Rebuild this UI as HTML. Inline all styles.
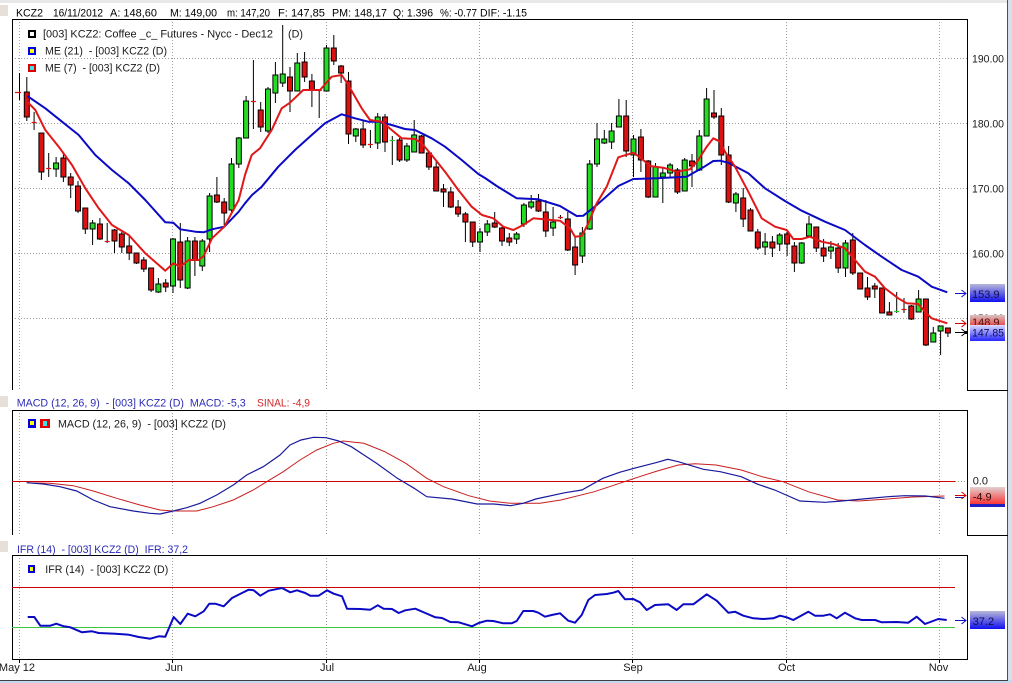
<!DOCTYPE html>
<html><head><meta charset="utf-8"><style>
html,body{margin:0;padding:0;background:#fff;}
body{width:1012px;height:683px;overflow:hidden;}
svg{display:block;}
text{font-family:"Liberation Sans",Arial,sans-serif;font-size:11px;white-space:pre;}
</style></head><body>
<svg width="1012" height="683" viewBox="0 0 1012 683" xmlns="http://www.w3.org/2000/svg">
<defs>
<linearGradient id="gb" x1="0" y1="0" x2="0" y2="1"><stop offset="0" stop-color="#b8b8d8"/><stop offset="1" stop-color="#1010f0"/></linearGradient>
<linearGradient id="gb2" x1="0" y1="0" x2="0" y2="1"><stop offset="0" stop-color="#dcdcff"/><stop offset="1" stop-color="#2626ff"/></linearGradient>
<linearGradient id="gr" x1="0" y1="0" x2="0" y2="1"><stop offset="0" stop-color="#d8c0c0"/><stop offset="1" stop-color="#e84848"/></linearGradient>
<linearGradient id="gr2" x1="0" y1="0" x2="0" y2="1"><stop offset="0" stop-color="#e0d0d0"/><stop offset="1" stop-color="#ff1c1c"/></linearGradient>
</defs>
<rect x="0" y="0" width="1012" height="683" fill="#fff"/>
<rect x="0" y="0" width="1012" height="3" fill="#e8e8e8"/>
<rect x="0" y="5" width="8" height="11" fill="#e6e0d8"/>
<rect x="0" y="396" width="8" height="11" fill="#e6e0d8"/>
<rect x="0" y="541" width="8" height="11" fill="#e6e0d8"/>
<!-- right frame -->
<rect x="1008" y="0" width="4" height="683" fill="#d4e0ec"/>
<rect x="1007" y="0" width="1" height="680" fill="#505050"/>
<rect x="0" y="680" width="1012" height="3" fill="#c4d8f0"/>
<rect x="0" y="680" width="1008" height="1" fill="#404040"/>

<!-- header -->
<g fill="#000">
<text x="16" y="16.5" textLength="27" lengthAdjust="spacingAndGlyphs">KCZ2</text>
<text x="53" y="16.5" textLength="50" lengthAdjust="spacingAndGlyphs">16/11/2012</text>
<text x="110" y="16.5" textLength="47" lengthAdjust="spacingAndGlyphs">A: 148,60</text>
<text x="170" y="16.5" textLength="47" lengthAdjust="spacingAndGlyphs">M: 149,00</text>
<text x="227" y="16.5" textLength="43" lengthAdjust="spacingAndGlyphs">m: 147,20</text>
<text x="278" y="16.5" textLength="47" lengthAdjust="spacingAndGlyphs">F: 147,85</text>
<text x="332" y="16.5" textLength="55" lengthAdjust="spacingAndGlyphs">PM: 148,17</text>
<text x="393" y="16.5" textLength="40" lengthAdjust="spacingAndGlyphs">Q: 1.396</text>
<text x="440" y="16.5" textLength="37" lengthAdjust="spacingAndGlyphs">%: -0.77</text>
<text x="480" y="16.5" textLength="47" lengthAdjust="spacingAndGlyphs">DIF: -1.15</text>
</g>

<!-- grid -->
<g stroke="#9a9a9a" stroke-width="1" stroke-dasharray="1,2" fill="none">
<path d="M12 58.5H967M12 123.5H967M12 188.5H967M12 253.5H967M12 318.5H967"/>
<path d="M19.5 19V390M172.5 19V390M326.5 19V390M479.5 19V390M632.5 19V390M786.5 19V390M939.5 19V390"/>
<path d="M19.5 410V535M172.5 410V535M326.5 410V535M479.5 410V535M632.5 410V535M786.5 410V535M939.5 410V535"/>
<path d="M19.5 555V659M172.5 555V659M326.5 555V659M479.5 555V659M632.5 555V659M786.5 555V659M939.5 555V659"/>
<path d="M955 481.5H967"/>
</g>

<!-- panel borders -->
<g stroke="#000" stroke-width="1" fill="none">
<path d="M12.5 390V19.5H967.5V390.5H1008"/>
<path d="M12.5 535V410.5H967.5V535.5H1008"/>
<path d="M12.5 555.5H967.5V659.5H12.5Z"/>
<path d="M19.5 659V663M172.5 659V663M326.5 659V663M479.5 659V663M632.5 659V663M786.5 659V663M939.5 659V663"/>
</g>

<!-- legends main -->
<rect x="28" y="30" width="8" height="8" fill="#000"/><rect x="30" y="32" width="4" height="4" fill="#fff"/>
<rect x="28" y="47" width="8" height="8" fill="#0000e0"/><rect x="30" y="49" width="4" height="4" fill="#ffff00"/>
<rect x="28" y="64" width="8" height="8" fill="#e00000"/><rect x="30" y="66" width="4" height="4" fill="#40e0e0"/>
<g fill="#1a1a1a">
<text x="43" y="37.5" textLength="230" lengthAdjust="spacingAndGlyphs">[003] KCZ2: Coffee _c_ Futures - Nycc - Dec12</text>
<text x="288" y="37.5" textLength="15" lengthAdjust="spacingAndGlyphs">(D)</text>
<text x="45" y="54.5" textLength="122" lengthAdjust="spacingAndGlyphs">ME (21)  - [003] KCZ2 (D)</text>
<text x="45" y="71.5" textLength="115" lengthAdjust="spacingAndGlyphs">ME (7)  - [003] KCZ2 (D)</text>
</g>

<!-- price axis labels -->
<g fill="#1a1a1a">
<text x="972" y="62.5" textLength="32" lengthAdjust="spacingAndGlyphs">190.00</text>
<text x="972" y="127.5" textLength="32" lengthAdjust="spacingAndGlyphs">180.00</text>
<text x="972" y="192.5" textLength="32" lengthAdjust="spacingAndGlyphs">170.00</text>
<text x="972" y="257.5" textLength="32" lengthAdjust="spacingAndGlyphs">160.00</text>
<text x="972" y="322" textLength="32" lengthAdjust="spacingAndGlyphs">150.00</text>
</g>

<!-- candles wicks -->
<path fill="none" stroke="#000" stroke-width="1" d="M19.5 73V100M26.8 77V121M34.1 112V130M41.4 133V180M48.7 153V177M56.1 157V177M63.4 154V182M70.7 173V198M78 181V213M85.3 208V234M92.6 220V245M99.9 218V240M107.2 223V243M114.5 229V253M121.8 232V253M129.2 236V260M136.5 253V264M143.8 257V272M151.1 268V292M158.4 278V293M165.7 279V292M173 238V293M180.3 223V288M187.6 237V289M194.9 237V276M202.3 239V271M209.6 193V252M216.9 177V203M224.2 198V225M231.5 158V212M238.8 137V168M246.1 96V138M253.4 60V129M260.7 102V132M268 87V133M275.4 62V103M282.7 25V87M290 67V112M297.3 53V91M304.6 52V82M311.9 74V107M319.2 90V118M326.5 45V91M333.8 35V65M341.1 65V83M348.5 72V144M355.8 128V142M363.1 120V148M370.4 130V148M377.7 113V149M385 114V152M392.3 136V165M399.6 138V162M406.9 143V162M414.2 120V152M421.6 135V153M428.9 152V170M436.2 162V191M443.5 184V207M450.8 187V208M458.1 200V217M465.4 212V242M472.7 222V247M480 228V252M487.3 220V236M494.7 212V228M502 227V246M509.3 233V246M516.6 232V244M523.9 203V227M531.2 195V209M538.5 194V212M545.8 200V237M553.1 207V236M560.4 215V219M567.8 212V251M575.1 237V275M582.4 227V263M589.7 160V230M597 123V167M604.3 130V144M611.6 123V149M618.9 99V127M626.2 100V157M633.5 135V177M640.9 129V172M648.2 160V198M655.5 163V197M662.8 168V203M670.1 163V177M677.4 168V194M684.7 158V191M692 154V187M699.3 130V171M706.6 88V136M714 90V119M721.3 108V165M728.6 146V203M735.9 192V212M743.2 188V227M750.5 208V231M757.8 229V250M765.1 233V255M772.4 236V257M779.7 233V251M787.1 232V256M794.4 242V272M801.7 242V264M809 216V237M816.3 227V252M823.6 239V262M830.9 241V259M838.2 243V273M845.5 240V277M852.8 233V275M860.2 273V289M867.5 277V300M874.8 283V298M882.1 288V313M889.4 302V315M896.7 292V313M904 298V313M911.3 305V320M918.6 290V312M925.9 299V346M933.3 327V342M940.6 326V355M947.9 328V337"/>

<!-- green bodies -->
<path fill="#22dd22" stroke="#000" stroke-width="1" d="M53.6 163h5V169h-5ZM90.1 223h5V229h-5ZM155.9 284h5V292h-5ZM170.5 239h5V286h-5ZM185.1 241h5V288h-5ZM199.8 241h5V266h-5ZM207.1 196h5V239h-5ZM229 164h5V210h-5ZM236.3 138h5V164h-5ZM243.6 101h5V138h-5ZM265.5 89h5V131h-5ZM272.9 75h5V93h-5ZM280.2 74h5V83h-5ZM294.8 63h5V91h-5ZM324 48h5V91h-5ZM353.3 129h5V136h-5ZM375.2 117h5V143h-5ZM404.4 146h5V160h-5ZM411.7 135h5V152h-5ZM477.5 232h5V242h-5ZM484.8 224h5V232h-5ZM514.1 234h5V239h-5ZM521.4 205h5V224h-5ZM528.7 202h5V207h-5ZM550.6 222h5V228h-5ZM579.9 233h5V256h-5ZM587.2 164h5V229h-5ZM594.5 139h5V164h-5ZM601.8 139h5V143h-5ZM609.1 131h5V142h-5ZM616.4 116h5V127h-5ZM631 139h5V155h-5ZM653 167h5V197h-5ZM660.3 173h5V177h-5ZM667.6 165h5V173h-5ZM682.2 160h5V191h-5ZM696.8 136h5V170h-5ZM704.1 99h5V136h-5ZM733.4 194h5V203h-5ZM762.6 242h5V247h-5ZM777.2 235h5V244h-5ZM799.2 243h5V263h-5ZM806.5 224h5V236h-5ZM828.4 247h5V251h-5ZM843 243h5V268h-5ZM916.1 299h5V312h-5ZM930.8 333h5V342h-5ZM938.1 326h5V331h-5Z"/>

<!-- red bodies -->
<path fill="#dd1111" stroke="#000" stroke-width="1" d="M24.3 92h5V117h-5ZM38.9 133h5V172h-5ZM60.9 158h5V177h-5ZM68.2 177h5V185h-5ZM75.5 186h5V211h-5ZM82.8 208h5V229h-5ZM97.4 224h5V239h-5ZM112 230h5V241h-5ZM119.3 234h5V247h-5ZM126.7 246h5V253h-5ZM134 253h5V263h-5ZM141.3 260h5V269h-5ZM148.6 268h5V290h-5ZM163.2 283h5V287h-5ZM177.8 242h5V280h-5ZM192.4 241h5V260h-5ZM214.4 195h5V202h-5ZM221.7 202h5V213h-5ZM258.2 110h5V127h-5ZM287.5 77h5V91h-5ZM302.1 62h5V77h-5ZM309.4 81h5V90h-5ZM331.3 48h5V61h-5ZM338.6 66h5V73h-5ZM346 81h5V134h-5ZM360.6 129h5V145h-5ZM382.5 117h5V142h-5ZM397.1 140h5V160h-5ZM419.1 136h5V153h-5ZM426.4 153h5V167h-5ZM433.7 167h5V191h-5ZM441 189h5V192h-5ZM448.3 192h5V207h-5ZM455.6 207h5V214h-5ZM462.9 214h5V222h-5ZM470.2 222h5V242h-5ZM492.2 223h5V227h-5ZM499.5 228h5V241h-5ZM506.8 238h5V242h-5ZM536 201h5V211h-5ZM543.3 212h5V231h-5ZM565.3 219h5V250h-5ZM572.6 247h5V265h-5ZM623.7 116h5V151h-5ZM638.4 137h5V160h-5ZM645.7 161h5V197h-5ZM674.9 170h5V192h-5ZM689.5 161h5V166h-5ZM711.5 113h5V117h-5ZM718.8 116h5V155h-5ZM726.1 155h5V202h-5ZM740.7 198h5V219h-5ZM748 210h5V231h-5ZM755.3 232h5V248h-5ZM769.9 242h5V248h-5ZM784.6 234h5V244h-5ZM791.9 246h5V263h-5ZM813.8 227h5V248h-5ZM821.1 248h5V256h-5ZM835.7 248h5V268h-5ZM850.3 240h5V273h-5ZM857.7 273h5V289h-5ZM865 288h5V297h-5ZM872.3 286h5V289h-5ZM879.6 288h5V313h-5ZM886.9 312h5V315h-5ZM908.8 306h5V319h-5ZM923.4 299h5V345h-5ZM945.4 328h5V333h-5Z"/>

<!-- dojis -->
<path stroke="#dd1111" stroke-width="1.2" fill="none" d="M15 92.5h6M31.6 122.5h5M46.2 168.5h5M104.7 241.5h5M250.9 101.5h5M316.7 90.5h5M367.9 144.5h5M557.9 217.5h5M901.5 309.5h5"/>
<path stroke="#22cc22" stroke-width="1.2" fill="none" d="M389.8 140.5h5M894.2 311.5h5"/>

<!-- EMA 21 blue -->
<polyline fill="none" stroke="#0a0ac4" stroke-width="2" stroke-linejoin="round" points="27.3,96 45.3,108.3 62,121.7 78.7,135 95.3,155 112,170 128.7,183.3 145.3,200 165.3,222.3 173.3,222.7 180.3,229.3 195.3,231.7 203.7,232.3 212,229.3 224.3,226.7 238.7,211.7 245,203.3 252,195 261.7,186.7 278.3,166.7 295,150 311.7,135 325,123.3 341.7,114.3 355,118.3 368.3,121.7 378.3,121.7 391.7,125 405,129 415,130 431.7,138.3 445,146.7 461.7,160 478.3,174 485,178 496.7,186 516.7,198.3 538.3,199.3 560,206 576.7,216 583.3,215.7 596.7,205 618.3,186 633.3,179 656.7,178.3 686.7,176.7 703.3,167.3 713.3,161 720,160.7 728.3,162.7 748.3,173.3 765,188.3 785,201 801.7,210.7 825,221.7 845,230 865,245 881.7,256.7 901.7,270 918.3,276.7 931.7,286.7 947.3,292.3"/>
<!-- EMA 7 red -->
<polyline fill="none" stroke="#e01818" stroke-width="2" stroke-linejoin="round" points="27.3,101.7 35.3,110 45.3,130 58.7,146.7 72,165 85.3,188.3 98.7,208.3 112,225 128.7,235 145.3,253.3 158.7,265 165.3,270.7 173.3,263.3 180.3,266.7 188.7,260 198.7,260 203.7,256 212,238.3 224.3,226.7 238.7,200 245,175 251.7,155 260,148.3 271.7,130 281.7,108.3 290,102.7 303.3,90 320,90 331.7,76.7 341.7,75 348.3,85 361.7,108.3 370,120 381.7,121.7 391.7,130 401.7,138.3 415,139 421.7,143.3 431.7,155 445,171.7 458.3,190 471.7,206.7 482,215 493.3,218.3 503.3,226.7 513.3,230 523.3,225 533.3,218.3 543.3,219.3 560,220.7 570,228.3 575,236.7 581.7,236 588.3,223.3 596.7,203.3 606.7,186.7 618.3,157.3 633.3,152.7 640,157.3 650,166 663.3,167.7 676.7,171.7 690,169.3 698.3,160 706.7,146.7 713.3,138.3 720,141.7 725,151.7 735,166.7 748.3,191.7 761.7,218.3 775,226.7 786.7,230 793.3,239 801.7,239 810,236.7 821.7,241.7 833.3,244 845,248.3 855,260 865,271.7 875,276.7 885,288.3 898.3,298.3 906.7,303.3 918.3,304 925,311.7 931.7,318.3 947.3,323.3"/>

<!-- main arrows -->
<path fill="none" stroke="#1010c0" stroke-width="1" d="M955 293.5H966M961.5 290L966 293.5L961.5 297"/>
<path fill="none" stroke="#d00000" stroke-width="1" d="M955 323.5H966M961.5 320L966 323.5L961.5 327"/>
<path fill="none" stroke="#000" stroke-width="1" d="M955 332.5H966M961.5 329L966 332.5L961.5 336"/>
<rect x="965" y="331" width="3" height="3" fill="#000"/>

<!-- price label boxes -->
<rect x="970" y="284" width="35" height="18" fill="url(#gb)"/>
<text x="972" y="298" fill="#101050">153.9</text>
<rect x="970" y="315" width="35" height="11" fill="url(#gr)"/>
<text x="972" y="326" fill="#501010">148.9</text>
<rect x="970" y="325" width="35" height="16" fill="url(#gb2)"/>
<text x="972" y="336.5" fill="#101050" textLength="32" lengthAdjust="spacingAndGlyphs">147.85</text>

<!-- MACD -->
<g>
<text x="16.7" y="406.5" fill="#2a2ab8" textLength="229" lengthAdjust="spacingAndGlyphs">MACD (12, 26, 9)  - [003] KCZ2 (D)  MACD: -5,3</text>
<text x="257" y="406.5" fill="#d02828" textLength="53" lengthAdjust="spacingAndGlyphs">SINAL: -4,9</text>
</g>
<rect x="28" y="419" width="8" height="9" fill="#0000e0"/><rect x="30" y="421" width="4" height="4" fill="#ffff00"/>
<rect x="40" y="419" width="10" height="9" fill="#e00000"/><rect x="43" y="421" width="4" height="5" fill="#40e0e0"/>
<text x="58" y="427.5" fill="#1a1a1a" textLength="168" lengthAdjust="spacingAndGlyphs">MACD (12, 26, 9)  - [003] KCZ2 (D)</text>
<rect x="12" y="481" width="943" height="1" fill="#d00000"/>
<polyline fill="none" stroke="#c81e1e" stroke-width="1" points="26.7,482.7 50,483.3 73.3,485.7 93.3,491 116.7,498.3 140,505 160,510 173.3,511 196.7,511 213.3,506.7 233.3,500 253.3,490 266.7,481.7 283.3,471.7 300,460 316.7,450 333.3,443.3 343,441 363.9,443.3 384.8,451.7 405.8,463.3 426.8,478.3 443.5,486.7 468.7,495.7 489.6,501 510.6,503.3 539.9,503.3 560.9,500 594.4,491.7 619.6,483.3 636.4,477.7 657.3,471 678.3,465 695.1,463.7 716,465 741.2,470 762.1,476.7 783.1,481.7 808.2,491.7 837.6,500 858.5,501 887.9,499 913,497 944.5,496"/>
<polyline fill="none" stroke="#1a1a9c" stroke-width="1.2" points="26.7,482.7 43.3,484 60,486.7 76.7,491 93.3,500 110,506.7 133.3,511 150,513.3 160,514 173.3,511 186.7,507.7 200,503.3 216.7,495 233.3,485 246.7,475 263.3,466.7 280,455 290,445 301,440 313.6,437.3 326.2,437.7 338.7,441 351.3,446.7 363.9,455 376.5,463.3 397.4,478.3 414.2,488.3 426.8,496.7 451.9,499 477.1,504 493.8,504 510.6,505.7 523.2,503.3 535.8,499 565.1,492.7 581.9,490 602.8,478.3 619.6,472.3 636.4,467.7 657.3,462.3 667.8,459.3 678.3,461.7 703.4,469.3 720.2,471.7 741.2,476.7 757.9,484.3 774.7,490 799.9,501 825,502.3 841.8,501 862.7,499 887.9,496.7 904.6,495.7 925.6,496 944.5,498.3"/>
<path fill="none" stroke="#d00000" stroke-width="1" d="M955 495.5H966M961.5 492L966 495.5L961.5 499"/>
<path fill="none" stroke="#1a1a9c" stroke-width="1" d="M955 497.5H964"/>
<text x="972.7" y="484.5" fill="#1a1a1a">0.0</text>
<rect x="970" y="487" width="35" height="20" fill="url(#gr2)"/>
<rect x="970" y="504" width="35" height="3" fill="#2020c0"/>
<text x="972.7" y="500.5" fill="#300808">-4.9</text>

<!-- IFR -->
<text x="17" y="553" fill="#2a2ab8" textLength="171" lengthAdjust="spacingAndGlyphs">IFR (14)  - [003] KCZ2 (D)  IFR: 37,2</text>
<rect x="28" y="565" width="7" height="8" fill="#0000e0"/><rect x="30" y="567" width="3" height="4" fill="#ffff00"/>
<text x="45.3" y="573" fill="#1a1a1a" textLength="123" lengthAdjust="spacingAndGlyphs">IFR (14)  - [003] KCZ2 (D)</text>
<rect x="12" y="587" width="943" height="1" fill="#d00000"/>
<rect x="12" y="627" width="943" height="1" fill="#3cc83c"/>
<polyline fill="none" stroke="#0a0ac4" stroke-width="2" stroke-linejoin="round" points="27.7,617 34.3,617 40.3,625.7 50.3,625.7 56.3,623.7 63.7,626.3 70.3,627.3 82,632.3 92,631.3 98.7,633 115.3,633.7 128.7,634.7 138.7,637 150.3,638.7 158.7,636.3 165.3,636.7 173.7,617 180.3,624 187.7,613.7 195.3,616.3 203.7,611.3 209.3,603.7 215.3,603.7 223.7,606.3 232,598 242,593 248.7,589.7 253.7,590.3 260.3,595.7 268.7,590.7 278.7,588.7 282,588 290.3,592.3 297,590.3 305.3,593 310.3,595.7 318.7,595.7 327,590.3 333.7,593.7 342,596.3 347,608.7 360.3,609 370.3,609.7 377.7,605.3 383.7,608.7 392,609 398.7,613 405.3,610.3 415.3,608.7 425.3,613 435.3,617.3 442,618 450.3,622 458.7,622.3 472,626.3 478.7,623 486.7,620.7 493.3,621 503.3,623.3 511.7,623.3 516.7,621 523.3,611 533.3,611 538.3,612.7 545,616.7 551.7,615 560,613.3 568.3,620.7 575,622.7 581.7,615 588.3,600 595,595 606.7,594 613.3,592.7 618.3,591 625,599.3 633.3,599 640,602.3 646.7,610 655,605 668.3,604.3 676.7,610 683.3,604.3 693.3,604.3 706.7,594.3 716.7,600.7 728.3,612.7 735,611.7 743.3,615.7 753.3,618.3 763.3,619 773.3,618.3 780,615.7 786.7,617.3 793.3,620 808.3,611.7 815,615.7 823.3,615.7 830,614.3 836.7,618.3 845,612.7 855,618.3 861.7,620 875,620 881.7,622.3 896.7,622 908.3,622.7 916.7,616.7 925,624 938.3,619 946.7,620"/>
<path fill="none" stroke="#1010c0" stroke-width="1" d="M955 620.5H966M961.5 617L966 620.5L961.5 624"/>
<rect x="970" y="611" width="35" height="18" fill="url(#gb)"/>
<text x="972.7" y="625" fill="#101050">37.2</text>

<!-- x axis labels -->
<g fill="#1a1a1a" style="font-size:10.5px">
<text x="35" y="671" text-anchor="end">May 12</text>
<text x="174" y="671" text-anchor="middle">Jun</text>
<text x="327" y="671" text-anchor="middle">Jul</text>
<text x="477" y="671" text-anchor="middle">Aug</text>
<text x="633" y="671" text-anchor="middle">Sep</text>
<text x="786.5" y="671" text-anchor="middle">Oct</text>
<text x="938.5" y="671" text-anchor="middle">Nov</text>
</g>
</svg>
</body></html>
